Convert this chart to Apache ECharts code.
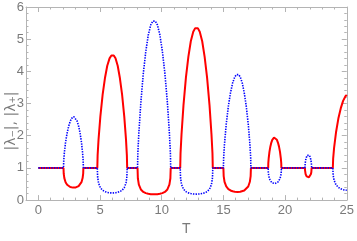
<!DOCTYPE html>
<html>
<head>
<meta charset="utf-8">
<script src="https://cdn.jsdelivr.net/npm/echarts@6/dist/echarts.min.js"></script>
<style>html,body{margin:0;padding:0;background:#fff;}#c{width:357px;height:241px;}</style>
</head>
<body>
<div id="c"></div>
<script>
// T grid (shared by both curves), one line per bubble
const T = [0,
  2.04, 2.057, 2.107, 2.208, 2.334, 2.46, 2.586, 2.712, 2.813, 2.88, 2.942, 3.034, 3.150, 3.265, 3.381, 3.496, 3.588, 3.635, 3.65,
  4.78, 4.805, 4.879, 5.028, 5.214, 5.40, 5.586, 5.772, 5.921, 6.02, 6.114, 6.256, 6.433, 6.61, 6.787, 6.964, 7.106, 7.176, 7.2,
  8.04, 8.067, 8.147, 8.308, 8.509, 8.71, 8.911, 9.112, 9.273, 9.38, 9.488, 9.65, 9.853, 10.055, 10.258, 10.46, 10.622, 10.703, 10.73,
  11.5, 11.526, 11.606, 11.764, 11.962, 12.16, 12.358, 12.556, 12.714, 12.82, 12.926, 13.084, 13.282, 13.48, 13.678, 13.876, 14.034, 14.114, 14.14,
  15.0, 15.023, 15.092, 15.23, 15.403, 15.575, 15.748, 15.92, 16.058, 16.15, 16.236, 16.366, 16.528, 16.69, 16.852, 17.014, 17.144, 17.209, 17.23,
  18.63, 18.64, 18.671, 18.732, 18.809, 18.885, 18.962, 19.038, 19.099, 19.14, 19.185, 19.252, 19.336, 19.42, 19.504, 19.588, 19.655, 19.689, 19.70,
  21.61, 21.615, 21.632, 21.664, 21.705, 21.745, 21.786, 21.826, 21.858, 21.88, 21.902, 21.934, 21.975, 22.015, 22.056, 22.096, 22.128, 22.145, 22.15,
  23.87, 23.896, 23.972, 24.126, 24.318, 24.51, 24.702, 24.894, 25
];
// |λ-| (red, solid)
const red = [1,
  1, 0.821, 0.684, 0.557, 0.479, 0.435, 0.408, 0.393, 0.388, 0.386, 0.388, 0.393, 0.408, 0.435, 0.479, 0.557, 0.684, 0.821, 1,
  1, 1.390, 1.879, 2.603, 3.286, 3.793, 4.173, 4.405, 4.492, 4.521, 4.492, 4.405, 4.173, 3.793, 3.286, 2.603, 1.879, 1.390, 1,
  1, 0.679, 0.479, 0.330, 0.254, 0.217, 0.195, 0.184, 0.180, 0.179, 0.180, 0.184, 0.195, 0.217, 0.254, 0.330, 0.479, 0.679, 1,
  1, 1.456, 2.046, 2.944, 3.805, 4.450, 4.935, 5.232, 5.343, 5.380, 5.343, 5.232, 4.935, 4.450, 3.805, 2.944, 2.046, 1.456, 1,
  1, 0.745, 0.569, 0.424, 0.342, 0.300, 0.275, 0.261, 0.257, 0.255, 0.257, 0.261, 0.275, 0.300, 0.342, 0.424, 0.569, 0.745, 1,
  1, 1.146, 1.300, 1.500, 1.669, 1.787, 1.873, 1.924, 1.943, 1.949, 1.943, 1.924, 1.873, 1.787, 1.669, 1.500, 1.300, 1.146, 1,
  1, 0.932, 0.873, 0.810, 0.765, 0.738, 0.719, 0.709, 0.706, 0.704, 0.706, 0.709, 0.719, 0.738, 0.765, 0.810, 0.873, 0.932, 1,
  1, 1.287, 1.624, 2.100, 2.533, 2.849, 3.084, 3.226, 3.272
];
// |λ+| (blue, dotted)
const blue = [1,
  1, 1.218, 1.463, 1.794, 2.087, 2.297, 2.451, 2.544, 2.578, 2.59, 2.578, 2.544, 2.451, 2.297, 2.087, 1.794, 1.463, 1.218, 1,
  1, 0.719, 0.532, 0.384, 0.304, 0.264, 0.240, 0.227, 0.223, 0.221, 0.223, 0.227, 0.240, 0.264, 0.304, 0.384, 0.532, 0.719, 1,
  1, 1.472, 2.088, 3.030, 3.937, 4.617, 5.130, 5.443, 5.560, 5.599, 5.560, 5.443, 5.130, 4.617, 3.937, 3.030, 2.088, 1.472, 1,
  1, 0.687, 0.489, 0.340, 0.263, 0.225, 0.203, 0.191, 0.187, 0.186, 0.187, 0.191, 0.203, 0.225, 0.263, 0.340, 0.489, 0.687, 1,
  1, 1.342, 1.757, 2.360, 2.920, 3.332, 3.640, 3.828, 3.898, 3.921, 3.898, 3.828, 3.640, 3.332, 2.920, 2.360, 1.757, 1.342, 1,
  1, 0.873, 0.769, 0.667, 0.599, 0.560, 0.534, 0.520, 0.515, 0.513, 0.515, 0.520, 0.534, 0.560, 0.599, 0.667, 0.769, 0.873, 1,
  1, 1.073, 1.146, 1.235, 1.307, 1.355, 1.390, 1.410, 1.417, 1.420, 1.417, 1.410, 1.390, 1.355, 1.307, 1.235, 1.146, 1.073, 1,
  1, 0.777, 0.616, 0.476, 0.395, 0.351, 0.324, 0.310, 0.306
];
const xMajor = [0, 5, 10, 15, 20, 25];
const xMinor = [-1, 1, 2, 3, 4, 6, 7, 8, 9, 11, 12, 13, 14, 16, 17, 18, 19, 21, 22, 23, 24];
const xTitle = 'T';
const yTitle = '|λ₋|, |λ₊|';

const frame = '#b4b4b4';
const labelColor = '#7a7a7a';
const font = 'Liberation Sans';

function xAx(pos, ticks, len, labels, line) {
  return {
    type: 'value', min: -1, max: 25, position: pos,
    axisLine: { show: line, onZero: false, lineStyle: { color: frame, width: 1 } },
    axisTick: { show: true, inside: true, length: len, customValues: ticks, lineStyle: { color: frame } },
    axisLabel: labels ? { show: true, customValues: ticks, color: labelColor, fontSize: 13, fontFamily: font, margin: 4 } : { show: false },
    splitLine: { show: false },
    name: labels ? xTitle : '',
    nameLocation: 'middle', nameGap: 21,
    nameTextStyle: { color: labelColor, fontSize: 14, fontFamily: font }
  };
}
function yAx(pos, labels) {
  return {
    type: 'value', min: 0, max: 6, interval: 1, position: pos,
    axisLine: { show: true, onZero: false, lineStyle: { color: frame, width: 1 } },
    axisTick: { show: true, inside: true, length: 5, lineStyle: { color: frame } },
    minorTick: { show: true, splitNumber: 5, length: 2.5, lineStyle: { color: frame } },
    axisLabel: labels ? { show: true, color: labelColor, fontSize: 13, fontFamily: font, margin: 2 } : { show: false },
    splitLine: { show: false }
  };
}

const chart = echarts.init(document.getElementById('c'), null, { renderer: 'canvas' });
chart.setOption({
  animation: false,
  backgroundColor: '#fff',
  grid: { left: 26, right: 8, top: 7, bottom: 34 },
  xAxis: [
    xAx('bottom', xMajor, 5, true, true),
    xAx('bottom', xMinor, 2.5, false, false),
    xAx('top', xMajor, 5, false, true),
    xAx('top', xMinor, 2.5, false, false)
  ],
  yAxis: [yAx('left', true), yAx('right', false)],
  graphic: [{
    type: 'text', x: 11, y: 121, rotation: Math.PI / 2,
    style: { text: yTitle, fill: labelColor, font: '14px "DejaVu Sans"', align: 'center', verticalAlign: 'middle' }
  }],
  series: [
    {
      type: 'line', xAxisIndex: 0, yAxisIndex: 0, showSymbol: false, smooth: false,
      data: T.map((t, i) => [t, red[i]]),
      lineStyle: { color: '#ff0000', width: 2 }, itemStyle: { color: '#ff0000' }, z: 2
    },
    {
      type: 'line', xAxisIndex: 0, yAxisIndex: 0, showSymbol: false, smooth: false,
      data: T.map((t, i) => [t, blue[i]]),
      lineStyle: { color: '#0000ff', width: 1.6, type: [1.4, 1.2] }, itemStyle: { color: '#0000ff' }, z: 3
    }
  ]
});
</script>
</body>
</html>
